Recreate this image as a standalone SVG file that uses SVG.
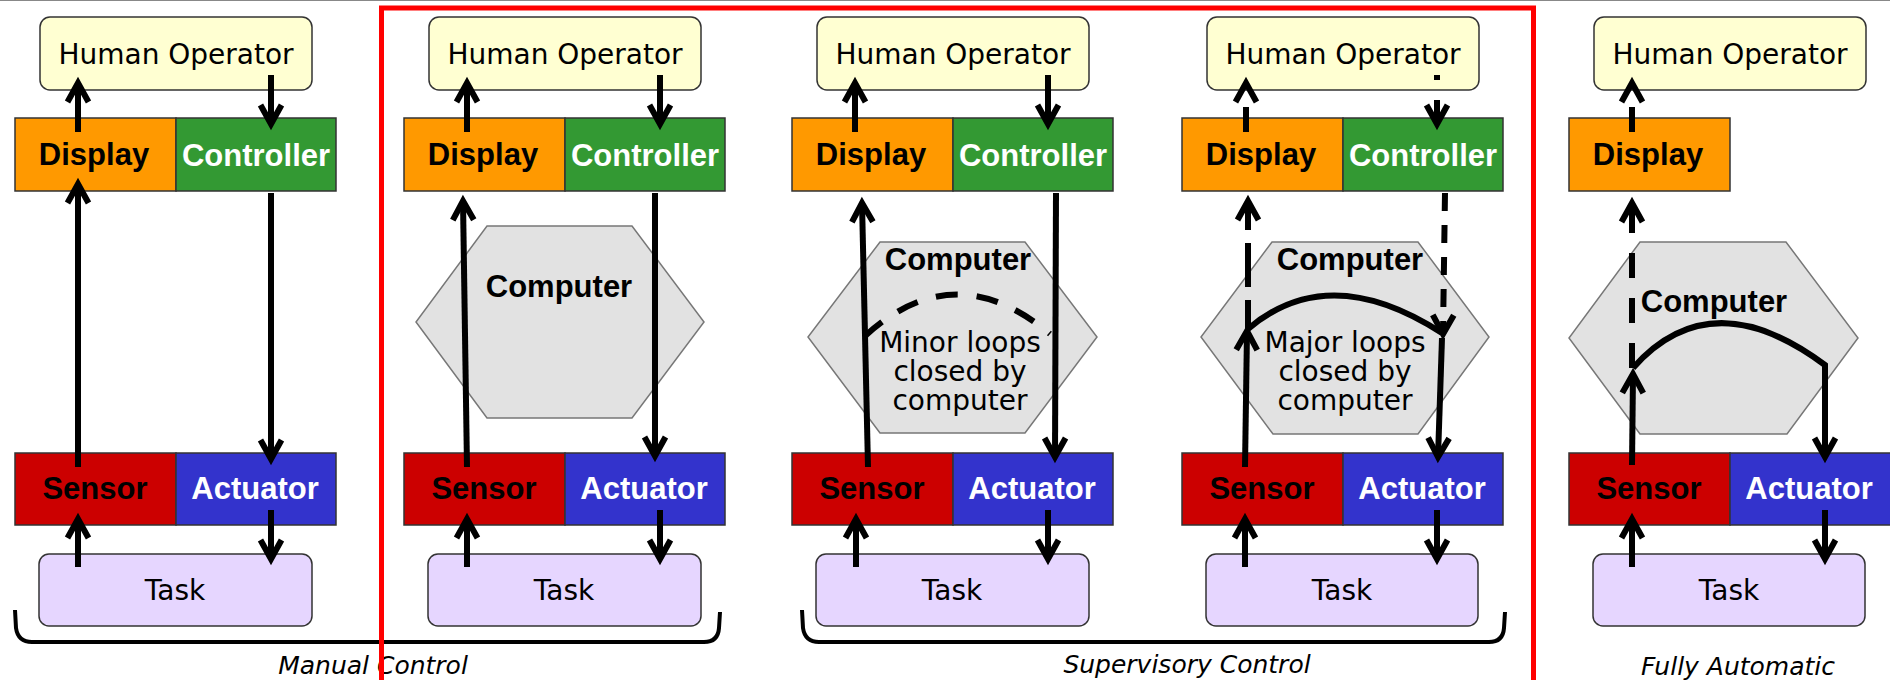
<svg xmlns="http://www.w3.org/2000/svg" width="1890" height="680" viewBox="0 0 1890 680">
  <style>
    .box{stroke:#333;stroke-width:1.5}
    .op{fill:#ffffd2}
    .disp{fill:#ff9900}
    .ctrl{fill:#339933}
    .sens{fill:#cc0000}
    .act{fill:#3333cc}
    .task{fill:#e6d6ff}
    .comp{fill:#e2e2e2;stroke:#777;stroke-width:1.5}
    .t{font-family:"DejaVu Sans",Verdana,sans-serif;font-size:28px;text-anchor:middle;fill:#000}
    .b{font-family:"Liberation Sans",Arial,sans-serif;font-weight:bold;font-size:31px;text-anchor:middle;fill:#000}
    .w{fill:#fff}
    .lbl{font-family:"DejaVu Sans",Verdana,sans-serif;font-style:italic;font-size:25px;text-anchor:middle;fill:#000}
    .c{fill:none;stroke:#000;stroke-width:6}
    .ah{marker-end:url(#head)}
    .brace{fill:none;stroke:#000;stroke-width:4}
  </style>
  <defs>
    <marker id="head" markerUnits="userSpaceOnUse" orient="auto" overflow="visible" markerWidth="1" markerHeight="1" refX="0" refY="0">
      <path d="M-19,-10.5 L0,0 L-19,10.5" fill="none" stroke="#000" stroke-width="6"/>
    </marker>
  </defs>
  <rect width="1890" height="680" fill="#fff"/>
  <line x1="0" y1="0.5" x2="1890" y2="0.5" stroke="#888" stroke-width="1"/>

  <!-- Panel 1: manual control, direct -->
  <g id="p1-operator"><rect class="box op" x="40" y="17" width="272" height="73" rx="10"/><text class="t" x="176" y="64">Human Operator</text></g>
  <g id="p1-display"><rect class="box disp" x="15" y="118" width="161" height="73"/><text class="b" x="94" y="165">Display</text></g>
  <g id="p1-controller"><rect class="box ctrl" x="176" y="118" width="160" height="73"/><text class="b w" x="256" y="166">Controller</text></g>
  <g id="p1-sensor"><rect class="box sens" x="15" y="453" width="161" height="72"/><text class="b" x="95" y="499">Sensor</text></g>
  <g id="p1-actuator"><rect class="box act" x="176" y="453" width="160" height="72"/><text class="b w" x="255" y="499">Actuator</text></g>
  <g id="p1-task"><rect class="box task" x="39" y="554" width="273" height="72" rx="10"/><text class="t" x="175" y="600">Task</text></g>

  <!-- Panel 2: computer in the path -->
  <g id="p2-computer"><polygon class="comp" points="487,226 632,226 704,322 632,418 487,418 416,322"/><text class="b" x="559" y="297">Computer</text></g>
  <g id="p2-operator"><rect class="box op" x="429" y="17" width="272" height="73" rx="10"/><text class="t" x="565" y="64">Human Operator</text></g>
  <g id="p2-display"><rect class="box disp" x="404" y="118" width="161" height="73"/><text class="b" x="483" y="165">Display</text></g>
  <g id="p2-controller"><rect class="box ctrl" x="565" y="118" width="160" height="73"/><text class="b w" x="645" y="166">Controller</text></g>
  <g id="p2-sensor"><rect class="box sens" x="404" y="453" width="161" height="72"/><text class="b" x="484" y="499">Sensor</text></g>
  <g id="p2-actuator"><rect class="box act" x="565" y="453" width="160" height="72"/><text class="b w" x="644" y="499">Actuator</text></g>
  <g id="p2-task"><rect class="box task" x="428" y="554" width="273" height="72" rx="10"/><text class="t" x="564" y="600">Task</text></g>

  <!-- Panel 3: minor loops -->
  <g id="p3-computer"><polygon class="comp" points="880,242 1025,242 1097,337 1025,433 880,433 808,337"/><text class="b" x="958" y="270">Computer</text>
    <text class="t" x="960" y="352">Minor loops</text><text class="t" x="960" y="381">closed by</text><text class="t" x="960" y="410">computer</text></g>
  <g id="p3-operator"><rect class="box op" x="817" y="17" width="272" height="73" rx="10"/><text class="t" x="953" y="64">Human Operator</text></g>
  <g id="p3-display"><rect class="box disp" x="792" y="118" width="161" height="73"/><text class="b" x="871" y="165">Display</text></g>
  <g id="p3-controller"><rect class="box ctrl" x="953" y="118" width="160" height="73"/><text class="b w" x="1033" y="166">Controller</text></g>
  <g id="p3-sensor"><rect class="box sens" x="792" y="453" width="161" height="72"/><text class="b" x="872" y="499">Sensor</text></g>
  <g id="p3-actuator"><rect class="box act" x="953" y="453" width="160" height="72"/><text class="b w" x="1032" y="499">Actuator</text></g>
  <g id="p3-task"><rect class="box task" x="816" y="554" width="273" height="72" rx="10"/><text class="t" x="952" y="600">Task</text></g>

  <!-- Panel 4: major loops -->
  <g id="p4-computer"><polygon class="comp" points="1272,242 1418,242 1489,337 1418,434 1273,434 1201,337"/><text class="b" x="1350" y="270">Computer</text>
    <text class="t" x="1345" y="352">Major loops</text><text class="t" x="1345" y="381">closed by</text><text class="t" x="1345" y="410">computer</text></g>
  <g id="p4-operator"><rect class="box op" x="1207" y="17" width="272" height="73" rx="10"/><text class="t" x="1343" y="64">Human Operator</text></g>
  <g id="p4-display"><rect class="box disp" x="1182" y="118" width="161" height="73"/><text class="b" x="1261" y="165">Display</text></g>
  <g id="p4-controller"><rect class="box ctrl" x="1343" y="118" width="160" height="73"/><text class="b w" x="1423" y="166">Controller</text></g>
  <g id="p4-sensor"><rect class="box sens" x="1182" y="453" width="161" height="72"/><text class="b" x="1262" y="499">Sensor</text></g>
  <g id="p4-actuator"><rect class="box act" x="1343" y="453" width="160" height="72"/><text class="b w" x="1422" y="499">Actuator</text></g>
  <g id="p4-task"><rect class="box task" x="1206" y="554" width="272" height="72" rx="10"/><text class="t" x="1342" y="600">Task</text></g>

  <!-- Panel 5: fully automatic -->
  <g id="p5-computer"><polygon class="comp" points="1640,242 1786,242 1858,338 1787,434 1640,434 1569,338"/><text class="b" x="1714" y="312">Computer</text></g>
  <g id="p5-operator"><rect class="box op" x="1594" y="17" width="272" height="73" rx="10"/><text class="t" x="1730" y="64">Human Operator</text></g>
  <g id="p5-display"><rect class="box disp" x="1569" y="118" width="161" height="73"/><text class="b" x="1648" y="165">Display</text></g>
  <g id="p5-sensor"><rect class="box sens" x="1569" y="453" width="161" height="72"/><text class="b" x="1649" y="499">Sensor</text></g>
  <g id="p5-actuator"><rect class="box act" x="1730" y="453" width="162" height="72"/><text class="b w" x="1809" y="499">Actuator</text></g>
  <g id="p5-task"><rect class="box task" x="1593" y="554" width="272" height="72" rx="10"/><text class="t" x="1729" y="600">Task</text></g>

  <!-- Signal paths -->
  <g id="connectors">
    <!-- panel 1 -->
    <path class="c ah" d="M78,132 L78,83"/>
    <path class="c ah" d="M271,75 L271,124"/>
    <path class="c ah" d="M78,467 L78,184"/>
    <path class="c ah" d="M271,193 L271,459"/>
    <path class="c ah" d="M78,567 L78,519"/>
    <path class="c ah" d="M271,510 L271,559"/>
    <!-- panel 2 -->
    <path class="c ah" d="M467,132 L467,83"/>
    <path class="c ah" d="M660,75 L660,124"/>
    <path class="c ah" d="M467,467 L463,201"/>
    <path class="c ah" d="M655,193 L655,456"/>
    <path class="c ah" d="M467,567 L467,519"/>
    <path class="c ah" d="M660,510 L660,559"/>
    <!-- panel 3 -->
    <path class="c ah" d="M855,132 L855,83"/>
    <path class="c ah" d="M1048,75 L1048,124"/>
    <path class="c ah" d="M868,467 L862,203"/>
    <path class="c ah" d="M1056,193 L1055,457"/>
    <path class="c ah" d="M856,567 L856,519"/>
    <path class="c ah" d="M1048,510 L1048,559"/>
    <path class="c" d="M865,336 Q955,254 1050,334" stroke-dasharray="22 19"/>
    <!-- panel 4 -->
    <path class="c ah" d="M1246,132 L1246,83" stroke-dasharray="25 100"/>
    <path class="c ah" d="M1437,75 L1437,124" stroke-dasharray="5 20 100 10"/>
    <path class="c ah" d="M1248,330 L1248,201" stroke-dasharray="30 13 44 13 60 10"/>
    <path class="c ah" d="M1445,193 L1443,334" stroke-dasharray="18 14"/>
    <path class="c" d="M1248,329 Q1329,260 1442,333"/>
    <path class="c ah" d="M1245,467 L1247,331"/>
    <path class="c ah" d="M1442,338 L1438,457"/>
    <path class="c ah" d="M1245,567 L1245,519"/>
    <path class="c ah" d="M1437,510 L1437,559"/>
    <!-- panel 5 -->
    <path class="c ah" d="M1632,132 L1632,83" stroke-dasharray="25 100"/>
    <path class="c ah" d="M1632,368 L1632,203" stroke-dasharray="25 20 25 20 25 20 60 10"/>
    <path class="c ah" d="M1632,465 L1633,374"/>
    <path class="c ah" d="M1633,368 Q1711,280 1825,365 L1825,457"/>
    <path class="c ah" d="M1632,567 L1632,519"/>
    <path class="c ah" d="M1825,510 L1825,559"/>
  </g>

  <!-- Group braces and captions -->
  <g id="captions">
    <path class="brace" d="M15,610 L16,628 Q18,642 32,642 L704,642 Q718,642 719,628 L720,612"/>
    <path class="brace" d="M802,610 L803,628 Q805,642 819,642 L1489,642 Q1503,642 1504,628 L1505,612"/>
    <text class="lbl" x="373" y="674">Manual Control</text>
    <text class="lbl" x="1187" y="673">Supervisory Control</text>
    <text class="lbl" x="1738" y="675">Fully Automatic</text>
  </g>

  <!-- Supervisory control frame -->
  <rect x="381.5" y="8" width="1152" height="700" fill="none" stroke="#ff0000" stroke-width="5"/>
</svg>
